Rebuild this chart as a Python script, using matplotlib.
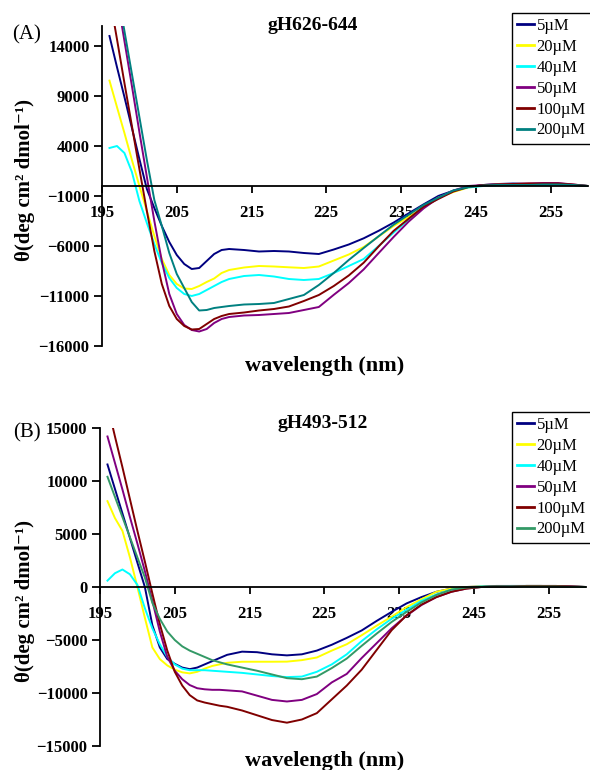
# coding: utf-8

import matplotlib.pyplot as plt

plt.rcParams['font.family'] = ['Liberation Serif', 'DejaVu Serif']

# wavelength grid (nm) the values below were read at
wavelength = [196, 197, 198, 199, 200, 201, 202, 203, 204, 205, 206, 207, 208, 209, 210, 211, 212,
              214, 216, 218, 220, 222, 224, 226, 228, 230, 232, 234, 236, 238, 240, 242, 244,
              246, 248, 250, 252, 254, 256, 258, 260]

labels = ['5\u00b5M', '20\u00b5M', '40\u00b5M', '50\u00b5M', '100\u00b5M', '200\u00b5M']
colors_a = ['#000080', '#ffff00', '#00ffff', '#800080', '#800000', '#008080']
colors_b = ['#000080', '#ffff00', '#00ffff', '#800080', '#800000', '#339966']

# (A) gH626-644
a_5 = [15000, 11900, 8900, 5800, 2700, -300, -2200, -4000, -5600, -6900, -7800, -8300, -8200, -7500, -6800, -6400, -6300,
       -6400, -6550, -6500, -6550, -6700, -6800, -6350, -5850, -5230, -4480, -3660, -2740, -1840, -990, -470, -100,
       100, 200, 250, 200, 150, 200, 100, 0]
a_20 = [10540, 7900, 5300, 2600, 0, -2500, -5000, -7300, -8900, -9800, -10250, -10300, -10000, -9600, -9250, -8700, -8400,
        -8150, -8000, -8050, -8130, -8200, -8050, -7450, -6850, -6100, -5050, -4000, -3100, -2130, -1150, -600, -150,
        50, 150, 200, 200, 200, 200, 100, 0]
a_40 = [3800, 4000, 3300, 1400, -1500, -3700, -5800, -7700, -9200, -10200, -10800, -11000, -10800, -10400, -10000, -9600, -9300,
        -9000, -8900, -9050, -9300, -9400, -9300, -8700, -8000, -7300, -6000, -4660, -3360, -2070, -1240, -450, -150,
        0, 50, 100, 100, 100, 150, 100, 0]
a_50 = [23500, 19000, 14500, 10000, 5400, 900, -3500, -7500, -10800, -12800, -13900, -14400, -14550, -14300, -13700, -13300, -13100,
        -12950, -12900, -12800, -12700, -12400, -12100, -10880, -9710, -8340, -6710, -5100, -3570, -2250, -1180, -450, 0,
        100, 150, 200, 250, 300, 300, 150, 0]
a_100 = [19000, 14700, 10300, 6000, 1700, -2500, -6500, -9800, -12000, -13300, -14000, -14350, -14300, -13800, -13300, -13000, -12800,
         -12650, -12450, -12300, -12050, -11500, -10900, -10000, -8950, -7670, -6040, -4490, -3280, -2070, -1290, -550, -100,
         100, 150, 200, 250, 250, 250, 150, 0]
a_200 = [24000, 19800, 15500, 11200, 6900, 2600, -1400, -4000, -6700, -8800, -10200, -11600, -12450, -12400, -12200, -12100, -12000,
         -11850, -11800, -11700, -11300, -10900, -9900, -8700, -7400, -6200, -5020, -3870, -2880, -1900, -1160, -450, -100,
         50, 100, 100, 100, 150, 150, 100, 0]

# (B) gH493-512
b_5 = [11560, 9250, 6940, 4630, 2300, 0, -3600, -5700, -6800, -7250, -7600, -7750, -7600, -7300, -7000, -6700, -6400,
       -6100, -6150, -6350, -6450, -6350, -6000, -5450, -4800, -4100, -3200, -2350, -1550, -950, -450, -150, 0,
       50, 100, 100, 100, 100, 100, 50, 0]
b_20 = [8100, 6500, 5300, 2800, 0, -2900, -5700, -6800, -7400, -7800, -8050, -8150, -8000, -7700, -7450, -7300, -7150,
        -7050, -7050, -7050, -7040, -6900, -6650, -6000, -5400, -4550, -3650, -2800, -1900, -1150, -450, -150, 0,
        50, 50, 50, 100, 100, 50, 50, 0]
b_40 = [600, 1300, 1650, 1200, 200, -2000, -3900, -5400, -6600, -7300, -7700, -7850, -7850, -7850, -7900, -7950, -8000,
        -8100, -8250, -8400, -8500, -8450, -8000, -7300, -6350, -5100, -4000, -3000, -2150, -1300, -700, -250, -50,
        50, 50, 100, 100, 100, 50, 50, 0]
b_50 = [14200, 11700, 9200, 6600, 4100, 1500, -1300, -4200, -6600, -7900, -8700, -9250, -9550, -9650, -9700, -9700, -9750,
        -9850, -10250, -10650, -10800, -10650, -10100, -9000, -8200, -6700, -5300, -3900, -2700, -1700, -950, -450, -150,
        0, 50, 50, 100, 100, 50, 50, 0]
b_100 = [17200, 14200, 11300, 8300, 5300, 2400, -600, -3500, -6000, -8000, -9300, -10200, -10700, -10900, -11050, -11200, -11300,
         -11650, -12100, -12550, -12800, -12500, -11900, -10600, -9300, -7800, -5940, -4080, -2670, -1650, -950, -450, -150,
         0, 50, 50, 100, 100, 100, 50, 0]
b_200 = [10400, 8500, 6600, 4700, 2800, 900, -1500, -3000, -4200, -5000, -5600, -6000, -6300, -6600, -6900, -7100, -7300,
         -7600, -7900, -8250, -8600, -8700, -8450, -7650, -6750, -5550, -4400, -3300, -2350, -1450, -750, -250, -50,
         0, 50, 50, 50, 50, 50, 0, 0]

xticks = [195, 205, 215, 225, 235, 245, 255]
yticks_a = [-16000, -11000, -6000, -1000, 4000, 9000, 14000]
yticks_b = [-15000, -10000, -5000, 0, 5000, 10000, 15000]

W, H = 590, 770


def px(x, y):
    # pixel position -> figure fraction
    return x / W, 1 - y / H


def panel(fig, rect, series, colors, ylim, yticks, title, tag, top):
    ax = fig.add_axes(rect)
    for vals, c, lab in zip(series, colors, labels):
        ax.plot(wavelength, vals, color=c, lw=1.4, label=lab)
    ax.set_xlim(195, 260)
    ax.set_ylim(*ylim)
    ax.set_xticks(xticks)
    ax.set_yticks(yticks)
    ax.spines['top'].set_visible(False)
    ax.spines['right'].set_visible(False)
    ax.spines['bottom'].set_position(('data', 0))
    for s in ('left', 'bottom'):
        ax.spines[s].set_linewidth(1.3)
    ax.tick_params(axis='x', direction='out', length=5, width=1.3, pad=9, labelsize=12)
    ax.tick_params(axis='y', direction='out', length=6, width=1.3, pad=3, labelsize=12)
    for t in ax.get_xticklabels() + ax.get_yticklabels():
        t.set_fontweight('bold')

    leg = ax.legend(loc='upper left', bbox_to_anchor=px(512, top), bbox_transform=fig.transFigure,
                    fontsize=12, frameon=True, fancybox=False, framealpha=1, edgecolor='black',
                    handlelength=1.0, handletextpad=0.15, borderpad=0.32, labelspacing=0.29,
                    borderaxespad=0)
    leg.get_frame().set_linewidth(1.0)
    for ln in leg.get_lines():
        ln.set_linewidth(2)

    fig.text(*px(tag[0], tag[1]), title, ha='center', va='baseline', fontsize=14, fontweight='bold')
    return ax


def main():
    fig = plt.figure(figsize=(W / 100, H / 100), dpi=100)

    panel(fig, [102 / W, 1 - 346 / H, 486 / W, 320 / H],
          [a_5, a_20, a_40, a_50, a_100, a_200], colors_a,
          (-16000, 16000), yticks_a, 'gH626-644', (313, 30), 13)
    panel(fig, [100 / W, 1 - 746 / H, 486 / W, 318 / H],
          [b_5, b_20, b_40, b_50, b_100, b_200], colors_b,
          (-15000, 15000), yticks_b, 'gH493-512', (323, 428), 412)

    ylab = '\u03b8(deg cm\u00b2 dmol\u207b\u00b9)'
    for tag, yl, xl, ly in [('(A)', 39, 371, 180), ('(B)', 437, 766, 601)]:
        fig.text(*px(27, yl), tag, ha='center', va='baseline', fontsize=15)
        fig.text(*px(325, xl), 'wavelength (nm)', ha='center', va='baseline',
                 fontsize=16, fontweight='bold')
        fig.text(*px(25, ly), ylab, ha='center', va='center', rotation=90,
                 fontsize=15, fontweight='bold')

    fig.savefig('out.png', dpi=100)


if __name__ == '__main__':
    main()
